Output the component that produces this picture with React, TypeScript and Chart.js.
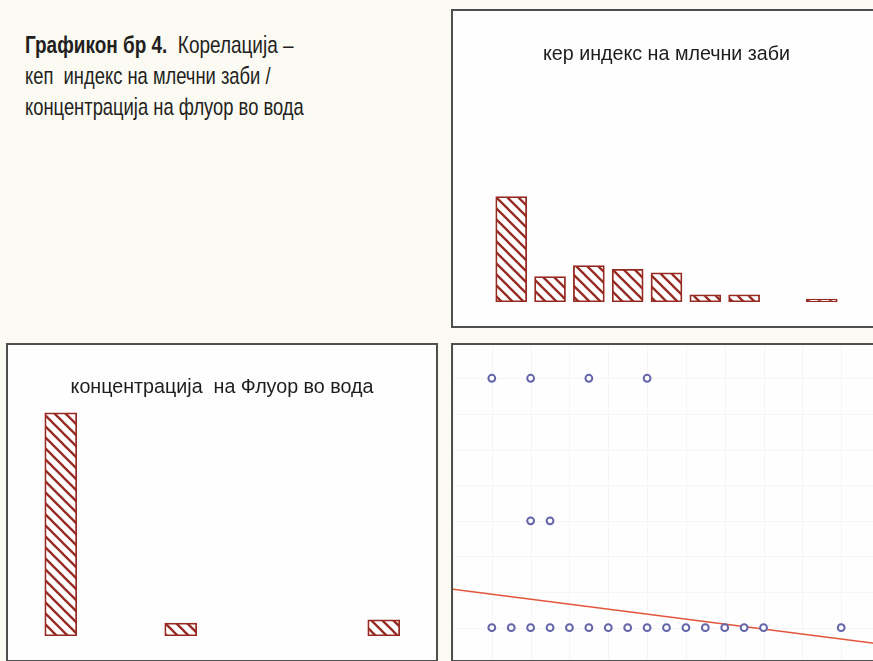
import React, { useEffect, useRef } from "react";
import { Chart, registerables, ChartConfiguration, Plugin } from "chart.js";

Chart.register(...registerables);

// кеп индекс: histogram bin centres and counts
const KEP_BIN_CENTERS = [1, 3, 5, 7, 9, 11, 13, 15, 17];
const KEP_COUNTS = [29, 7, 10, 9, 8, 2, 2, 0, 0.8];

// концентрација на флуор: histogram bin centres and counts
const FLUOR_BIN_CENTERS = [0.05, 0.18, 0.4];
const FLUOR_COUNTS = [69, 4, 5];

// scatter: кеп индекс (x) against концентрација на флуор (y)
const SCATTER_KEP = [0, 2, 5, 8, 2, 3, 0, 1, 2, 3, 4, 5, 6, 7, 8, 9, 10, 11, 12, 13, 14, 18];
const SCATTER_FLUOR = [
  0.4, 0.4, 0.4, 0.4, 0.2, 0.2, 0.05, 0.05, 0.05, 0.05, 0.05, 0.05, 0.05, 0.05, 0.05, 0.05,
  0.05, 0.05, 0.05, 0.05, 0.05, 0.05,
];

// fitted regression line
const REG_INTERCEPT = 0.097;
const REG_SLOPE = -0.0035;

// axis ranges
const KEP_RANGE = [-2, 20];
const FLUOR_HIST_RANGE = [-0.0072, 0.4566];
const FLUOR_Y_RANGE = [0.0046, 0.4467];
const KEP_COUNT_MAX = 80;
const FLUOR_COUNT_MAX = 90;

// faint background grid of the scatter
const GRID_X_STEP = 2;
const GRID_Y_STEP = 0.05;

const TITLE_TOP = "кер индекс на млечни заби";
const TITLE_LEFT = "концентрација  на Флуор во вода";

const BAR_RED = "#962a22";
const POINT_BLUE = "#6465a9";
const LINE_RED = "#e2553b";

function hatch(): CanvasPattern | string {
  const s = 11;
  const c = document.createElement("canvas");
  c.width = s;
  c.height = s;
  const g = c.getContext("2d");
  if (!g) return "#fff";
  g.fillStyle = "#ffffff";
  g.fillRect(0, 0, s, s);
  g.strokeStyle = BAR_RED;
  g.lineWidth = 2.3;
  g.lineCap = "square";
  for (const o of [-s, 0, s]) {
    g.beginPath();
    g.moveTo(o, 0);
    g.lineTo(o + s, s);
    g.stroke();
  }
  return g.createPattern(c, "repeat") || "#fff";
}

const hidden = { display: false };

function histogram(
  centers: number[],
  counts: number[],
  xr: number[],
  ymax: number,
  thickness: number
): ChartConfiguration {
  return {
    type: "bar",
    data: {
      datasets: [
        {
          data: centers.map((x, i) => ({ x, y: counts[i] })),
          backgroundColor: hatch() as any,
          borderColor: BAR_RED,
          borderWidth: 1.8,
          borderSkipped: false,
          barThickness: thickness,
        },
      ],
    },
    options: {
      animation: false,
      responsive: false,
      layout: { autoPadding: false, padding: { left: 0, right: 0, top: 0, bottom: 24 } },
      plugins: { legend: hidden, tooltip: { enabled: false } },
      scales: {
        x: { type: "linear", min: xr[0], max: xr[1], offset: false, display: false },
        y: { type: "linear", min: 0, max: ymax, display: false },
      },
    },
  } as any;
}

const faintGrid: Plugin = {
  id: "faintGrid",
  beforeDatasetsDraw(chart) {
    const { ctx, chartArea: a } = chart;
    const x = chart.scales.x;
    const y = chart.scales.y;
    ctx.save();
    ctx.strokeStyle = "#f5f5f5";
    ctx.lineWidth = 1;
    ctx.beginPath();
    for (let v = Math.ceil(x.min / GRID_X_STEP) * GRID_X_STEP; v <= x.max; v += GRID_X_STEP) {
      const px = Math.round(x.getPixelForValue(v)) + 0.5;
      ctx.moveTo(px, a.top);
      ctx.lineTo(px, a.bottom);
    }
    for (let v = Math.ceil(y.min / GRID_Y_STEP) * GRID_Y_STEP; v <= y.max; v += GRID_Y_STEP) {
      const py = Math.round(y.getPixelForValue(v)) + 0.5;
      ctx.moveTo(a.left, py);
      ctx.lineTo(a.right, py);
    }
    ctx.stroke();
    ctx.restore();
  },
};

function scatter(): ChartConfiguration {
  const x0 = KEP_RANGE[0];
  const x1 = KEP_RANGE[1];
  return {
    type: "scatter",
    data: {
      datasets: [
        {
          data: SCATTER_KEP.map((x, i) => ({ x, y: SCATTER_FLUOR[i] })),
          pointRadius: 3.4,
          pointBorderWidth: 2,
          pointBorderColor: POINT_BLUE,
          pointBackgroundColor: "#ffffff",
          order: 0,
        },
        {
          type: "line",
          data: [
            { x: x0, y: REG_INTERCEPT + REG_SLOPE * x0 },
            { x: x1, y: REG_INTERCEPT + REG_SLOPE * x1 },
          ],
          borderColor: LINE_RED,
          borderWidth: 1.6,
          pointRadius: 0,
          showLine: true,
          order: 1,
        } as any,
      ],
    },
    options: {
      animation: false,
      responsive: false,
      layout: { autoPadding: false, padding: 0 },
      plugins: { legend: hidden, tooltip: { enabled: false } },
      scales: {
        x: { type: "linear", min: x0, max: x1, display: false },
        y: { type: "linear", min: FLUOR_Y_RANGE[0], max: FLUOR_Y_RANGE[1], display: false },
      },
    },
    plugins: [faintGrid],
  } as any;
}

type PanelProps = {
  left: number;
  top: number;
  width: number;
  height: number;
  title?: string;
  titleTop?: number;
  build: () => ChartConfiguration;
};

function Panel({ left, top, width, height, title, titleTop, build }: PanelProps) {
  const ref = useRef<HTMLCanvasElement>(null);
  const iw = width - 4;
  const ih = height - 4;
  useEffect(() => {
    if (!ref.current) return;
    const chart = new Chart(ref.current, build());
    return () => chart.destroy();
  }, []);
  return (
    <div
      style={{
        position: "absolute",
        left,
        top,
        width,
        height,
        boxSizing: "border-box",
        border: "2px solid #4f4f4f",
        background: "#fefefe",
      }}
    >
      <canvas
        ref={ref}
        width={iw}
        height={ih}
        style={{ position: "absolute", left: 0, top: 0, width: iw, height: ih }}
      />
      {title && (
        <div
          style={{
            position: "absolute",
            left: 0,
            right: 0,
            top: titleTop,
            textAlign: "center",
            font: '19.7px/20px "Liberation Sans", Arial, sans-serif',
            color: "#1d1d1d",
            whiteSpace: "pre",
          }}
        >
          {title}
        </div>
      )}
    </div>
  );
}

const captionLine = (scale: number): React.CSSProperties => ({
  height: 30.8,
  transform: `scaleX(${scale})`,
  transformOrigin: "0 0",
});

export default function App() {
  return (
    <div
      style={{
        position: "fixed",
        left: 0,
        top: 0,
        width: 873,
        height: 661,
        overflow: "hidden",
        background: "#fbfaf3",
      }}
    >
      <div
        style={{
          position: "absolute",
          left: 25,
          top: 30,
          font: '24px/30.8px "Liberation Sans", Arial, sans-serif',
          color: "#231f20",
          whiteSpace: "pre",
        }}
      >
        <div style={captionLine(0.79)}>
          <b>Графикон бр 4.</b>
          {"  Корелација –"}
        </div>
        <div style={captionLine(0.765)}>{"кеп  индекс на млечни заби /"}</div>
        <div style={captionLine(0.765)}>{"концентрација на флуор во вода"}</div>
      </div>
      <Panel
        left={451}
        top={9}
        width={431}
        height={319}
        title={TITLE_TOP}
        titleTop={32}
        build={() => histogram(KEP_BIN_CENTERS, KEP_COUNTS, KEP_RANGE, KEP_COUNT_MAX, 31)}
      />
      <Panel
        left={6}
        top={343}
        width={432}
        height={319}
        title={TITLE_LEFT}
        titleTop={31}
        build={() =>
          histogram(FLUOR_BIN_CENTERS, FLUOR_COUNTS, FLUOR_HIST_RANGE, FLUOR_COUNT_MAX, 32)
        }
      />
      <Panel left={451} top={343} width={431} height={319} build={scatter} />
    </div>
  );
}
